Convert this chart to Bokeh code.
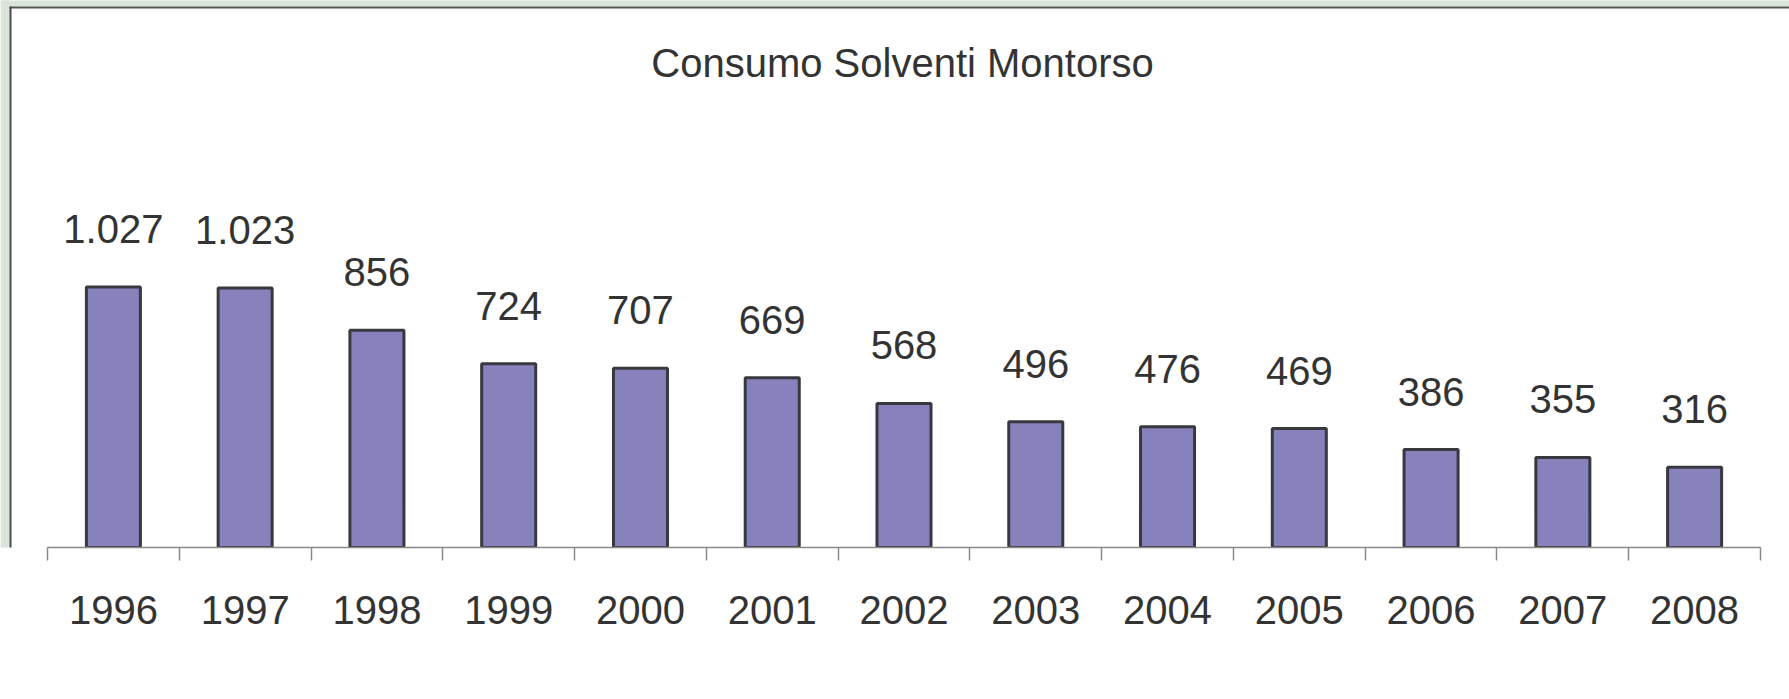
from bokeh.plotting import figure
from bokeh.models import Range1d, FixedTicker, Label, ColumnDataSource, BoxAnnotation
from bokeh.core.properties import value
from bokeh.embed import file_html
from bokeh.resources import INLINE
import numpy as np

TITLE = "Consumo Solventi Montorso"
years = ["1996", "1997", "1998", "1999", "2000", "2001", "2002",
         "2003", "2004", "2005", "2006", "2007", "2008"]
consumo = [1027, 1023, 856, 724, 707, 669, 568, 496, 476, 469, 386, 355, 316]
value_labels = ["1.027", "1.023", "856", "724", "707", "669", "568",
                "496", "476", "469", "386", "355", "316"]

FONT = "Liberation Sans"
TXT = "#333333"
SLIDE = "#dbe4da"

n = len(years)
W, H = 1789, 699
PX_PER_CAT = 1713 / n          # horizontal pixels per category
centers = (np.arange(n) + 0.5).tolist()
src = ColumnDataSource(dict(x=centers, top=consumo, lab=value_labels))

p = figure(width=W, height=H, output_backend="svg", toolbar_location=None,
           x_range=Range1d(-47 / PX_PER_CAT, n + 29 / PX_PER_CAT),
           y_range=Range1d(0, 2156),
           y_axis_location=None, min_border_left=0, min_border_right=0,
           min_border_top=0, min_border_bottom=152)
p.outline_line_color = None
p.grid.visible = False
p.background_fill_color = "white"
p.border_fill_color = "white"

# slide background strips and panel border (screen units, frame-relative)
def strip(l, r, b, t, color):
    p.add_layout(BoxAnnotation(left=l, right=r, bottom=b, top=t,
                               left_units="screen", right_units="screen",
                               bottom_units="screen", top_units="screen",
                               fill_color=color, fill_alpha=1.0,
                               line_color=None, level="underlay"))

strip(0, W, 541, 600, SLIDE)
strip(9, W, 539, 541, "#555555")
strip(0, 9, -10, 600, SLIDE)
strip(9, 11, -10, 541, "#4a4a4a")

p.vbar(x="x", top="top", width=0.41, source=src, fill_color="#8781BC",
       line_color="#38383f", line_width=3)
p.text(x="x", y="top", text="lab", source=src, y_offset=-58,
       text_align="center", text_baseline="alphabetic",
       text_font=value(FONT), text_font_size="40px", text_color=TXT)

ax = p.xaxis[0]
ax.bounds = (0, n)
ax.ticker = FixedTicker(ticks=centers, minor_ticks=list(range(n + 1)))
ax.major_label_overrides = {c: y for c, y in zip(centers, years)}
ax.major_tick_out = 0
ax.major_tick_in = 0
ax.minor_tick_out = 13
ax.minor_tick_in = 0
ax.minor_tick_line_color = "#8a8a8a"
ax.minor_tick_line_width = 1.5
ax.axis_line_color = "#8a8a8a"
ax.axis_line_width = 1.5
ax.major_label_standoff = 35
ax.major_label_text_font = FONT
ax.major_label_text_font_size = "40px"
ax.major_label_text_color = TXT

p.add_layout(Label(x=902, y=485, x_units="screen", y_units="screen", text=TITLE,
                   text_align="center", text_baseline="alphabetic",
                   text_font=FONT, text_font_size="40px", text_color=TXT))

open("out.html", "w").write(file_html(p, INLINE))
